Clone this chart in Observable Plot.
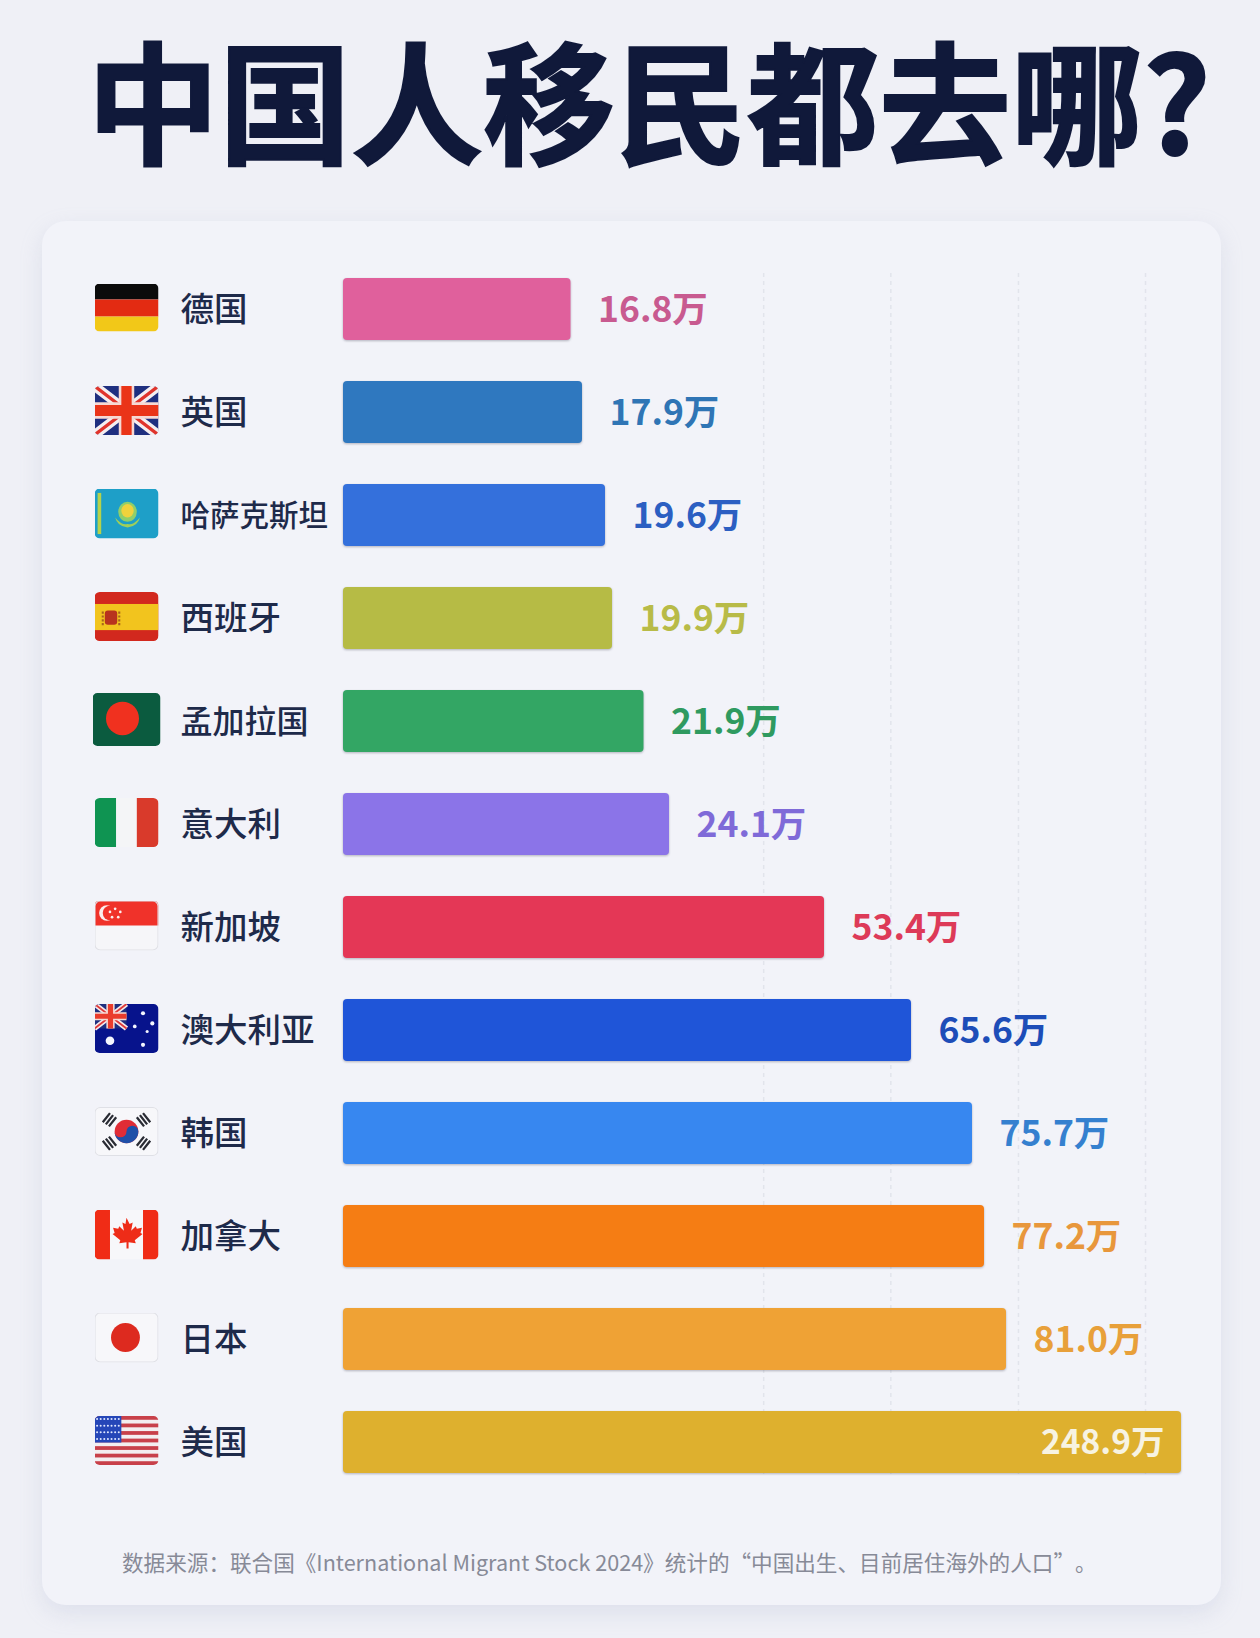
<!DOCTYPE html>
<html lang="zh-CN"><head><meta charset="utf-8">
<script src="https://cdn.jsdelivr.net/npm/d3@7"></script>
<script src="https://cdn.jsdelivr.net/npm/@observablehq/plot@0.6"></script>
<style>
html,body{margin:0;padding:0;background:#eff0f6;}
#page{position:relative;width:1260px;height:1638px;overflow:hidden;background:#eff0f6;font-family:"Noto Sans CJK SC",sans-serif;}
#title{position:absolute;left:87px;top:2px;margin:0;font-size:132px;line-height:190px;font-weight:700;-webkit-text-stroke:2px #10193a;color:#10193a;white-space:nowrap;}
#card{position:absolute;left:42px;top:221px;width:1179px;height:1384px;border-radius:24px;background:#f2f3f9;box-shadow:0 8px 22px rgba(160,170,200,.22);}
#chart{position:absolute;left:0;top:0;}
#chart svg{display:block;background:transparent;overflow:visible;}
.bars rect{filter:drop-shadow(0 1px 1px rgba(60,60,80,.35));}
#caption{position:absolute;left:80px;top:1326px;margin:0;font-size:21.6px;line-height:30px;color:#878a97;white-space:nowrap;text-spacing-trim:space-all;}
</style></head><body>
<div id="page">
<h1 id="title">中国人移民都去哪?</h1>
<div id="card"><div id="chart"></div>
<p id="caption">数据来源:联合国《International Migrant Stock 2024》统计的“中国出生、目前居住海外的人口”。</p></div>
</div>
<script>
document.getElementById("caption").textContent = "数据来源\uFF1A联合国《International Migrant Stock 2024》统计的“中国出生、目前居住海外的人口”。";
const countries = ["德国","英国","哈萨克斯坦","西班牙","孟加拉国","意大利","新加坡","澳大利亚","韩国","加拿大","日本","美国"];
const values = [16.8,17.9,19.6,19.9,21.9,24.1,53.4,65.6,75.7,77.2,81.0,248.9];
const barColors = ["#e0609c","#2f78bf","#3470dc","#b6bb45","#33a664","#8b74e8","#e43756","#1f55d8","#3787f0","#f57d14","#efa235","#deb02e"];
const labelColors = ["#c85a90","#2f75b5","#2c5fc2","#b8bb48","#2f9a60","#7f6ad8","#dd3a58","#1d4db8","#3580cf","#e8973c","#e8a03a","#f7f3e2"];
const nameSizes = [33.5,33.5,29.5,33.5,32,33.5,33.5,33.5,33.5,33.5,33.5,33.5];
const flagWidths = [64,64,64,64,68,64,64,64,64,64,64,64];
const flagHeights = [48,49,50,49,53,49,50,49,49,50,50,49];
// The reference's bars are not proportional to their values: these are the bar lengths.
const scaleStops = [0,16.8,17.9,19.6,19.9,21.9,24.1,53.4,65.6,75.7,77.2,81.0,248.9];
const barLengths = [0,227.5,239,262,269,300.5,326,481,568,629,641,663,838];
const gridValues = [41.9,62.7,92.5,214.4];
const readLength = d3.scaleLinear().domain(scaleStops).range(barLengths);

const shape = {
 "德国":[62,45,`<rect width="62" height="15" fill="#0b0b0b"/><rect y="15" width="62" height="16" fill="#e32b12"/><rect y="31" width="62" height="14" fill="#f2c818"/>`],
 "英国":[62,45,`<rect width="62" height="45" fill="#1f2f80"/><path d="M0 0L62 45M62 0L0 45" stroke="#f4eef0" stroke-width="9"/><path d="M0 0L62 45M62 0L0 45" stroke="#e0342c" stroke-width="3"/><path d="M31 0V45M0 22.5H62" stroke="#f6d9d4" stroke-width="15"/><path d="M31 0V45M0 22.5H62" stroke="#ea3418" stroke-width="10"/>`],
 "哈萨克斯坦":[62,45,`<rect width="62" height="45" fill="#1e9fc8"/><rect x="3" y="4" width="3.500" height="37" fill="#b7d24a"/><circle cx="32" cy="21" r="9" fill="#8fcf6a"/><circle cx="32" cy="20" r="6" fill="#f0d23c"/><path d="M20 26q6 7 12 6q6 1 12-6q-2 8-12 9q-10-1-12-9z" fill="#9fcf5a"/>`],
 "西班牙":[62,45,`<rect width="62" height="45" fill="#d2281e"/><rect y="11" width="62" height="24" fill="#f2c41e"/><rect x="10" y="17" width="12" height="13" rx="3" fill="#b8341e"/><path d="M8 18v13M24 18v13" stroke="#a8651c" stroke-width="2" stroke-dasharray="2 1.5"/>`],
 "孟加拉国":[68,52,`<rect width="68" height="52" fill="#0b5b3f"/><circle cx="30" cy="25" r="16.5" fill="#f0311f"/>`],
 "意大利":[62,45,`<rect width="21" height="45" fill="#0f9452"/><rect x="21" width="20" height="45" fill="#f4f5f7"/><rect x="41" width="21" height="45" fill="#d93a2b"/>`],
 "新加坡":[62,48,`<rect width="62" height="48" fill="#f6f6f9"/><rect width="62" height="24" fill="#f0322a"/><circle cx="12" cy="12" r="7.5" fill="#fbeeee"/><circle cx="15" cy="12" r="7" fill="#f0322a"/><g fill="#fbeeee"><circle cx="20" cy="8" r="1.3"/><circle cx="15" cy="11" r="1.3"/><circle cx="25" cy="11" r="1.3"/><circle cx="17" cy="16" r="1.3"/><circle cx="23" cy="16" r="1.3"/></g>`],
 "澳大利亚":[62,48,`<rect width="62" height="48" fill="#07138c"/><g><rect width="31" height="24" fill="#1f2f80"/><path d="M0 0L31 24M31 0L0 24" stroke="#f4e8ea" stroke-width="5"/><path d="M0 0L31 24M31 0L0 24" stroke="#df3a3a" stroke-width="1.8"/><path d="M15.5 0V24M0 12H31" stroke="#f6d9d4" stroke-width="8"/><path d="M15.5 0V24M0 12H31" stroke="#ea3c2c" stroke-width="5"/></g><g fill="#f4f6ff"><circle cx="47" cy="9" r="2"/><circle cx="39" cy="22" r="1.8"/><circle cx="56" cy="19" r="2"/><circle cx="51" cy="27" r="1.5"/><circle cx="47" cy="40" r="2"/><circle cx="15" cy="36" r="4.2"/></g>`],
 "韩国":[62,48,`<rect width="62" height="48" fill="#f7f7fa"/><circle cx="31" cy="24" r="11.5" fill="#e02c36"/><path d="M19.5 24a5.75 5.75 0 0 0 11.5 0a5.75 5.75 0 0 1 11.5 0a11.5 11.5 0 0 1-23 0z" fill="#1f4fa8"/><g stroke="#2a2c34" stroke-width="2.2"><path d="M8 15L15 6M11 17L18 8M14 19L21 10"/><path d="M54 15L47 6M51 17L44 8M48 19L41 10"/><path d="M8 33L15 42M11 31L18 40M14 29L21 38"/><path d="M54 33L47 42M51 31L44 40M48 29L41 38"/></g>`],
 "加拿大":[62,48,`<rect width="62" height="48" fill="#f7f7fa"/><rect width="15" height="48" fill="#f02c16"/><rect x="47" width="15" height="48" fill="#f02c16"/><path d="M31 8l3 6 3-1.5-1.5 8 4.5-4.5 1 2.5 5-1-1.5 5 2 1-7.5 6 1 3-7-1v6h-2v-6l-7 1 1-3-7.5-6 2-1-1.5-5 5 1 1-2.5 4.500 4.500-1.500-8 3 1.500z" fill="#ee2c18"/>`],
 "日本":[62,48,`<rect width="62" height="48" fill="#f7f7fa"/><circle cx="30" cy="24" r="14" fill="#dd2a1f"/>`],
 "美国":[62,48,`<rect width="62" height="48" fill="#f3eef0"/><g fill="#c8404a">${d3.range(0,13,2).map(i=>`<rect y="${i*48/13}" width="62" height="${48/13}"/>`).join("")}</g><rect width="26" height="26" fill="#2546b8"/><g fill="#dfe6ff">${d3.range(4).flatMap(r=>d3.range(7).map(c=>`<circle cx="${2.5+c*3.5}" cy="${3+r*6.5}" r="1"/>`)).join("")}</g>`]
};
function flag(name){
  const [w,h,art] = shape[name];
  const bordered = ["新加坡","韩国","日本"].includes(name);
  const s = `<svg xmlns="http://www.w3.org/2000/svg" viewBox="0 0 ${w} ${h}" preserveAspectRatio="none" width="${w}" height="${h}"><defs><clipPath id="c"><rect width="${w}" height="${h}" rx="5"/></clipPath></defs><g clip-path="url(#c)">${art}</g>${bordered?`<rect x=".5" y=".5" width="${w-1}" height="${h-1}" rx="5" fill="none" stroke="#dfe0e6"/>`:""}</svg>`;
  return "data:image/svg+xml;charset=utf-8,"+encodeURIComponent(s);
}

const rows = countries.map((country,i)=>({country,value:values[i],color:barColors[i],ink:labelColors[i],size:nameSizes[i],w:flagWidths[i],h:flagHeights[i],src:flag(country)}));
const outside = rows.filter(d=>d.value<200), inside = rows.filter(d=>d.value>=200);
const fmt = d=>d.value.toFixed(1)+"万";

const chart = Plot.plot({
  width:1179,height:1384,marginTop:52,marginBottom:131,marginLeft:0,marginRight:0,
  style:{background:"transparent",fontFamily:'"Noto Sans CJK SC",sans-serif',overflow:"visible"},
  x:{transform:readLength,domain:[0,838],range:[301,1139],axis:null},
  y:{domain:countries,range:[35.4,1273.8],paddingInner:.395,paddingOuter:.1975,align:.5,axis:null},
  color:{type:"identity"},
  marks:[
    Plot.ruleX(gridValues,{stroke:"#e2e4ec",strokeWidth:1.5,strokeDasharray:"4 4"}),
    Plot.barX(rows,{x1:0,x2:"value",y:"country",fill:"color",rx:4,className:"bars"}),
    Plot.image(rows,{y:"country",frameAnchor:"left",dx:84,dy:-2,width:"w",height:"h",src:"src",preserveAspectRatio:"none"}),
    Plot.text(rows,{y:"country",text:"country",frameAnchor:"left",dx:138,dy:1,textAnchor:"start",fontSize:"size",fontWeight:500,fill:"#1e2a4a"}),
    Plot.text(outside,{x:"value",y:"country",text:fmt,dx:27,dy:1,textAnchor:"start",fontSize:35.5,fontWeight:700,fill:"ink"}),
    Plot.text(inside,{x:"value",y:"country",text:fmt,dx:-17,dy:1,textAnchor:"end",fontSize:33.5,fontWeight:600,fill:"ink"})
  ]
});
document.getElementById("chart").append(chart);
</script>
</body></html>
